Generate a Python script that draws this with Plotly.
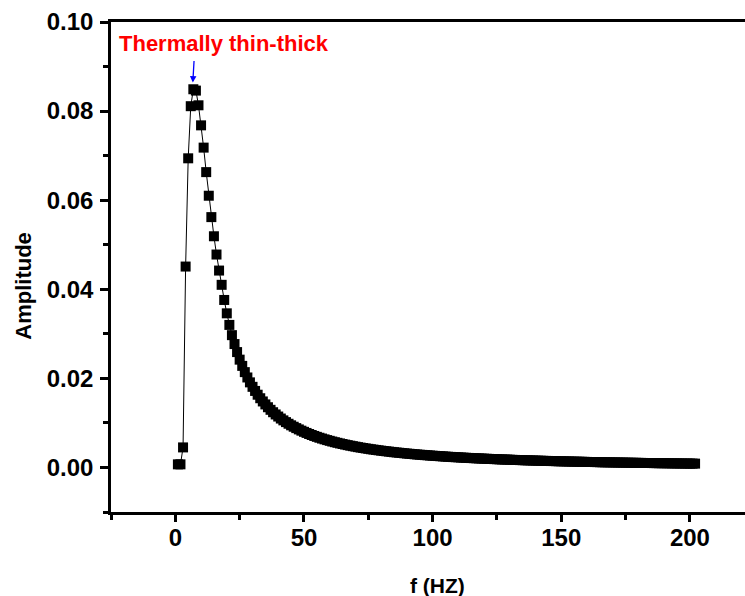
import plotly.graph_objects as go

# Amplitude values, one per frequency step of 1 Hz (f = 1 ... 202)
amplitude = [
    0.0007, 0.0007, 0.0045, 0.0451, 0.0694, 0.0811, 0.0849, 0.0846, 0.0813, 0.0768,
    0.0718, 0.0663, 0.0610, 0.0562, 0.0519, 0.0478, 0.0442, 0.0410, 0.0376, 0.0346,
    0.0320, 0.0297, 0.0277, 0.0259, 0.0242, 0.0228, 0.0214, 0.0202, 0.0191, 0.0181,
    0.01718, 0.01633, 0.01554, 0.01482, 0.01415, 0.01352, 0.01294, 0.01240, 0.01190, 0.01143,
    0.01098, 0.01057, 0.01018, 0.00981, 0.00946, 0.00914, 0.00883, 0.00854, 0.00826, 0.00800,
    0.00775, 0.00751, 0.00729, 0.00707, 0.00687, 0.00667, 0.00649, 0.00631, 0.00614, 0.00598,
    0.00582, 0.00567, 0.00553, 0.00539, 0.00526, 0.00513, 0.00501, 0.00489, 0.00478, 0.00467,
    0.00456, 0.00446, 0.00437, 0.00427, 0.00418, 0.00409, 0.00401, 0.00393, 0.00385, 0.00377,
    0.00370, 0.00363, 0.00356, 0.00349, 0.00342, 0.00336, 0.00330, 0.00324, 0.00318, 0.00312,
    0.00307, 0.00302, 0.00296, 0.00291, 0.00286, 0.00282, 0.00277, 0.00273, 0.00268, 0.00264,
    0.00260, 0.00256, 0.00252, 0.00248, 0.00244, 0.00240, 0.00237, 0.00233, 0.00230, 0.00227,
    0.00223, 0.00220, 0.00217, 0.00214, 0.00211, 0.00208, 0.00205, 0.00203, 0.00200, 0.00197,
    0.00195, 0.00192, 0.00190, 0.00187, 0.00185, 0.00182, 0.00180, 0.00178, 0.00176, 0.00174,
    0.00171, 0.00169, 0.00167, 0.00165, 0.00163, 0.00161, 0.00160, 0.00158, 0.00156, 0.00154,
    0.00152, 0.00151, 0.00149, 0.00147, 0.00146, 0.00144, 0.00143, 0.00141, 0.00139, 0.00138,
    0.00137, 0.00135, 0.00134, 0.00132, 0.00131, 0.00130, 0.00128, 0.00127, 0.00126, 0.00124,
    0.00123, 0.00122, 0.00121, 0.00120, 0.00118, 0.00117, 0.00116, 0.00115, 0.00114, 0.00113,
    0.00112, 0.00111, 0.00110, 0.00109, 0.00108, 0.00107, 0.00106, 0.00105, 0.00104, 0.00103,
    0.00102, 0.00101, 0.00100, 0.00100, 0.00099, 0.00098, 0.00097, 0.00096, 0.00095, 0.00095,
    0.00094, 0.00093, 0.00092, 0.00091, 0.00091, 0.00090, 0.00089, 0.00088, 0.00088, 0.00087,
    0.00086, 0.00086,
]
frequency = list(range(1, len(amplitude) + 1))

x_ticks = [0, 50, 100, 150, 200]
y_ticks = [0.00, 0.02, 0.04, 0.06, 0.08, 0.10]
x_title = "f (HZ)"
y_title = "Amplitude"
note_text = "Thermally thin-thick"
note_point = (6.8, 0.0864)

FONT = "Arial, Liberation Sans, sans-serif"

fig = go.Figure()
fig.add_trace(go.Scatter(
    x=frequency, y=amplitude, mode="lines+markers",
    line=dict(color="#000000", width=1),
    marker=dict(symbol="square", size=10, color="#000000", line=dict(width=0)),
    showlegend=False,
))

axis_common = dict(
    showgrid=False, zeroline=False, showline=True, linecolor="#000000", linewidth=2.5,
    ticks="outside", tickwidth=2.5, tickcolor="#000000",
    tickfont=dict(family=FONT, size=24, color="#000000", weight="bold"),
)

fig.update_xaxes(
    range=[-25, 221.4], tickmode="array", tickvals=x_ticks,
    ticktext=[str(v) for v in x_ticks], mirror=True, ticklen=7,
    minor=dict(ticks="outside", ticklen=5, tickwidth=2.5, tickcolor="#000000", dtick=25, tick0=0),
    ticklabelstandoff=-5,
    **axis_common,
)
fig.update_yaxes(
    range=[-0.01, 0.10], tickmode="array", tickvals=y_ticks,
    ticktext=[f"{v:.2f}" for v in y_ticks], mirror=False, ticklen=8,
    minor=dict(ticks="outside", ticklen=5, tickwidth=2.5, tickcolor="#000000", dtick=0.01, tick0=0),
    ticklabelstandoff=2,
    **axis_common,
)

fig.add_annotation(
    text=note_text, xref="paper", yref="paper", x=0.178, y=0.957,
    xanchor="center", yanchor="middle", showarrow=False,
    font=dict(family=FONT, size=22, color="#FF0000", weight="bold"),
)
fig.add_annotation(
    x=note_point[0], y=note_point[1], xref="x", yref="y", text="",
    showarrow=True, ax=1.3, ay=-23, arrowhead=2, arrowsize=1, arrowwidth=1.3,
    arrowcolor="#0000FF", standoff=0,
)
fig.add_annotation(
    text=x_title, xref="paper", yref="paper", x=0.515, y=-0.149,
    xanchor="center", yanchor="middle", showarrow=False,
    font=dict(family=FONT, size=21, color="#000000", weight="bold"),
)
fig.add_annotation(
    text=y_title, xref="paper", yref="paper", x=-0.1393, y=0.4612, textangle=-90,
    xanchor="center", yanchor="middle", showarrow=False,
    font=dict(family=FONT, size=22, color="#000000", weight="bold"),
)

fig.update_layout(
    width=745, height=596,
    margin=dict(l=111, r=0, t=22, b=84, pad=0),
    plot_bgcolor="#FFFFFF", paper_bgcolor="#FFFFFF",
)

fig.write_html("out.html")
